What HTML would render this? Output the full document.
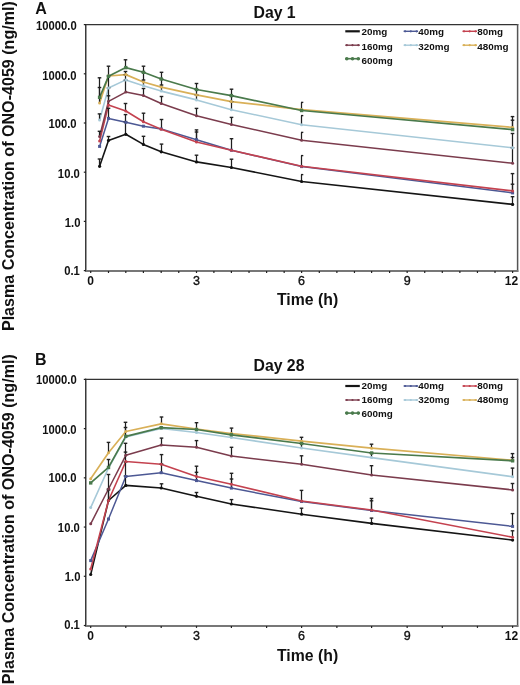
<!DOCTYPE html>
<html><head><meta charset="utf-8"><style>
html,body{margin:0;padding:0;background:#fff;}
svg{display:block;will-change:transform;}
text{font-family:"Liberation Sans",sans-serif;font-weight:bold;fill:#111;}
.yl{font-size:12px;}
.xl{font-size:12.5px;font-weight:normal;stroke:#111;stroke-width:0.35px;}
.xl0{font-size:12px;}
.xl2{font-size:12px;}
.lg{font-size:9.4px;}
.tt{font-size:16px;}
.dy{font-size:15.8px;}
.xt{font-size:15.8px;}
.yt{font-size:16.1px;}
</style></head><body>
<svg width="520" height="685" viewBox="0 0 520 685">
<rect width="520" height="685" fill="#fff"/>
<text x="35.3" y="13.6" class="tt">A</text>
<text x="35" y="364.6" class="tt">B</text>
<text x="253.5" y="17.8" class="dy">Day 1</text>
<text x="253.5" y="370.9" class="dy">Day 28</text>
<text transform="translate(14.2,166.1) rotate(-90)" text-anchor="middle" class="yt">Plasma Concentration of ONO-4059 (ng/ml)</text>
<text transform="translate(14.2,519.2) rotate(-90)" text-anchor="middle" class="yt">Plasma Concentration of ONO-4059 (ng/ml)</text>
<text x="277" y="305.4" class="xt">Time (h)</text>
<text x="277" y="660.5" class="xt">Time (h)</text>
<text transform="translate(76.7,29.9) scale(0.94,1)" text-anchor="end" class="yl">10000.0</text>
<text transform="translate(76.6,79.7) scale(0.94,1)" text-anchor="end" class="yl">1000.0</text>
<text transform="translate(76.6,127.9) scale(0.94,1)" text-anchor="end" class="yl">100.0</text>
<text transform="translate(79.8,177.8) scale(0.94,1)" text-anchor="end" class="yl">10.0</text>
<text transform="translate(80.4,226.5) scale(0.94,1)" text-anchor="end" class="yl">1.0</text>
<text transform="translate(79.8,274.9) scale(0.94,1)" text-anchor="end" class="yl">0.1</text>
<text transform="translate(76.7,384.4) scale(0.94,1)" text-anchor="end" class="yl">10000.0</text>
<text transform="translate(76.6,434.2) scale(0.94,1)" text-anchor="end" class="yl">1000.0</text>
<text transform="translate(76.6,482.4) scale(0.94,1)" text-anchor="end" class="yl">100.0</text>
<text transform="translate(79.8,532.3) scale(0.94,1)" text-anchor="end" class="yl">10.0</text>
<text transform="translate(80.4,581.0) scale(0.94,1)" text-anchor="end" class="yl">1.0</text>
<text transform="translate(79.8,629.4) scale(0.94,1)" text-anchor="end" class="yl">0.1</text>
<text x="90.70" y="284.9" text-anchor="middle" class="xl0">0</text>
<text x="196.50" y="284.9" text-anchor="middle" class="xl">3</text>
<text x="301.60" y="284.9" text-anchor="middle" class="xl">6</text>
<text x="407.16" y="284.9" text-anchor="middle" class="xl">9</text>
<text x="518.2" y="284.9" text-anchor="end" class="xl2">12</text>
<text x="90.70" y="639.8" text-anchor="middle" class="xl0">0</text>
<text x="196.50" y="639.8" text-anchor="middle" class="xl">3</text>
<text x="301.60" y="639.8" text-anchor="middle" class="xl">6</text>
<text x="407.16" y="639.8" text-anchor="middle" class="xl">9</text>
<text x="518.2" y="639.8" text-anchor="end" class="xl2">12</text>
<line x1="85" y1="24.6" x2="518.3" y2="24.6" stroke="#333" stroke-width="1.2"/>
<line x1="517.6" y1="24.0" x2="517.6" y2="272" stroke="#555" stroke-width="1.5"/>
<line x1="85.75" y1="24.0" x2="85.75" y2="272" stroke="#3a3a3a" stroke-width="1.5"/>
<line x1="85" y1="271" x2="518.3" y2="271" stroke="#777" stroke-width="2"/>
<line x1="83.8" y1="24.60" x2="86" y2="24.60" stroke="#222" stroke-width="1.2"/>
<line x1="83.8" y1="73.80" x2="86" y2="73.80" stroke="#222" stroke-width="1.2"/>
<line x1="83.8" y1="123.00" x2="86" y2="123.00" stroke="#222" stroke-width="1.2"/>
<line x1="83.8" y1="172.20" x2="86" y2="172.20" stroke="#222" stroke-width="1.2"/>
<line x1="83.8" y1="221.40" x2="86" y2="221.40" stroke="#222" stroke-width="1.2"/>
<line x1="83.8" y1="270.60" x2="86" y2="270.60" stroke="#222" stroke-width="1.2"/>
<line x1="90.70" y1="271" x2="90.70" y2="273" stroke="#222" stroke-width="1.2"/>
<line x1="108.50" y1="271" x2="108.50" y2="273" stroke="#222" stroke-width="1.2"/>
<line x1="125.80" y1="271" x2="125.80" y2="273" stroke="#222" stroke-width="1.2"/>
<line x1="143.40" y1="271" x2="143.40" y2="273" stroke="#222" stroke-width="1.2"/>
<line x1="161.20" y1="271" x2="161.20" y2="273" stroke="#222" stroke-width="1.2"/>
<line x1="178.75" y1="271" x2="178.75" y2="273" stroke="#222" stroke-width="1.2"/>
<line x1="196.50" y1="271" x2="196.50" y2="273" stroke="#222" stroke-width="1.2"/>
<line x1="213.89" y1="271" x2="213.89" y2="273" stroke="#222" stroke-width="1.2"/>
<line x1="231.40" y1="271" x2="231.40" y2="273" stroke="#222" stroke-width="1.2"/>
<line x1="249.03" y1="271" x2="249.03" y2="273" stroke="#222" stroke-width="1.2"/>
<line x1="266.60" y1="271" x2="266.60" y2="273" stroke="#222" stroke-width="1.2"/>
<line x1="284.17" y1="271" x2="284.17" y2="273" stroke="#222" stroke-width="1.2"/>
<line x1="301.60" y1="271" x2="301.60" y2="273" stroke="#222" stroke-width="1.2"/>
<line x1="319.31" y1="271" x2="319.31" y2="273" stroke="#222" stroke-width="1.2"/>
<line x1="336.88" y1="271" x2="336.88" y2="273" stroke="#222" stroke-width="1.2"/>
<line x1="354.45" y1="271" x2="354.45" y2="273" stroke="#222" stroke-width="1.2"/>
<line x1="371.60" y1="271" x2="371.60" y2="273" stroke="#222" stroke-width="1.2"/>
<line x1="389.59" y1="271" x2="389.59" y2="273" stroke="#222" stroke-width="1.2"/>
<line x1="407.16" y1="271" x2="407.16" y2="273" stroke="#222" stroke-width="1.2"/>
<line x1="424.73" y1="271" x2="424.73" y2="273" stroke="#222" stroke-width="1.2"/>
<line x1="442.30" y1="271" x2="442.30" y2="273" stroke="#222" stroke-width="1.2"/>
<line x1="459.87" y1="271" x2="459.87" y2="273" stroke="#222" stroke-width="1.2"/>
<line x1="477.44" y1="271" x2="477.44" y2="273" stroke="#222" stroke-width="1.2"/>
<line x1="495.01" y1="271" x2="495.01" y2="273" stroke="#222" stroke-width="1.2"/>
<line x1="512.60" y1="271" x2="512.60" y2="273" stroke="#222" stroke-width="1.2"/>
<polyline points="99.60,166.30 108.50,140.40 125.80,134.30 143.40,144.40 161.20,151.80 196.50,161.90 231.40,167.50 301.60,181.50 512.60,204.40" fill="none" stroke="#151515" stroke-width="1.6" stroke-linejoin="round"/>
<polyline points="99.60,146.40 108.50,118.40 125.80,122.30 143.40,126.20 161.20,128.90 196.50,139.70 231.40,150.20 301.60,166.60 512.60,192.90" fill="none" stroke="#4c5894" stroke-width="1.5" stroke-linejoin="round"/>
<polyline points="99.60,141.00 108.50,105.10 125.80,111.00 143.40,121.80 161.20,129.30 196.50,142.00 231.40,150.20 301.60,166.20 512.60,190.90" fill="none" stroke="#c4424f" stroke-width="1.6" stroke-linejoin="round"/>
<polyline points="99.60,136.50 108.50,101.30 125.80,92.10 143.40,95.50 161.20,103.50 196.50,115.80 231.40,124.50 301.60,140.30 512.60,163.20" fill="none" stroke="#7b3c4d" stroke-width="1.5" stroke-linejoin="round"/>
<polyline points="99.60,120.00 108.50,88.00 125.80,79.90 143.40,85.80 161.20,91.10 196.50,99.90 231.40,109.70 301.60,124.70 512.60,147.80" fill="none" stroke="#a6c9d8" stroke-width="1.6" stroke-linejoin="round"/>
<polyline points="99.60,102.90 108.50,76.00 125.80,74.60 143.40,82.00 161.20,87.10 196.50,94.90 231.40,101.60 301.60,109.60 512.60,127.40" fill="none" stroke="#d9b058" stroke-width="1.7" stroke-linejoin="round"/>
<polyline points="99.60,97.30 108.50,76.30 125.80,67.60 143.40,72.30 161.20,79.00 196.50,89.50 231.40,95.60 301.60,110.50 512.60,129.60" fill="none" stroke="#4a7a4c" stroke-width="1.7" stroke-linejoin="round"/>
<line x1="99.50" y1="166.30" x2="99.50" y2="159.00" stroke="#1e1e1e" stroke-width="1.25"/>
<line x1="97.70" y1="159.00" x2="101.30" y2="159.00" stroke="#222" stroke-width="1.4"/>
<line x1="108.50" y1="140.40" x2="108.50" y2="136.50" stroke="#1e1e1e" stroke-width="1.25"/>
<line x1="106.70" y1="136.50" x2="110.30" y2="136.50" stroke="#222" stroke-width="1.4"/>
<line x1="125.50" y1="134.30" x2="125.50" y2="122.00" stroke="#1e1e1e" stroke-width="1.25"/>
<line x1="123.70" y1="122.00" x2="127.30" y2="122.00" stroke="#222" stroke-width="1.4"/>
<line x1="143.50" y1="144.40" x2="143.50" y2="136.30" stroke="#1e1e1e" stroke-width="1.25"/>
<line x1="141.70" y1="136.30" x2="145.30" y2="136.30" stroke="#222" stroke-width="1.4"/>
<line x1="161.50" y1="151.80" x2="161.50" y2="144.10" stroke="#1e1e1e" stroke-width="1.25"/>
<line x1="159.70" y1="144.10" x2="163.30" y2="144.10" stroke="#222" stroke-width="1.4"/>
<line x1="196.50" y1="161.90" x2="196.50" y2="155.20" stroke="#1e1e1e" stroke-width="1.25"/>
<line x1="194.70" y1="155.20" x2="198.30" y2="155.20" stroke="#222" stroke-width="1.4"/>
<line x1="231.50" y1="167.50" x2="231.50" y2="159.20" stroke="#1e1e1e" stroke-width="1.25"/>
<line x1="229.70" y1="159.20" x2="233.30" y2="159.20" stroke="#222" stroke-width="1.4"/>
<line x1="301.50" y1="181.50" x2="301.50" y2="174.60" stroke="#1e1e1e" stroke-width="1.25"/>
<line x1="301.00" y1="174.60" x2="303.30" y2="174.60" stroke="#222" stroke-width="1.4"/>
<line x1="512.50" y1="204.40" x2="512.50" y2="196.70" stroke="#1e1e1e" stroke-width="1.25"/>
<line x1="510.70" y1="196.70" x2="514.30" y2="196.70" stroke="#222" stroke-width="1.4"/>
<line x1="108.50" y1="118.40" x2="108.50" y2="108.30" stroke="#1e1e1e" stroke-width="1.25"/>
<line x1="106.70" y1="108.30" x2="110.30" y2="108.30" stroke="#222" stroke-width="1.4"/>
<line x1="125.50" y1="122.30" x2="125.50" y2="114.60" stroke="#1e1e1e" stroke-width="1.25"/>
<line x1="123.70" y1="114.60" x2="127.30" y2="114.60" stroke="#222" stroke-width="1.4"/>
<line x1="196.50" y1="139.70" x2="196.50" y2="132.00" stroke="#1e1e1e" stroke-width="1.25"/>
<line x1="194.70" y1="132.00" x2="198.30" y2="132.00" stroke="#222" stroke-width="1.4"/>
<line x1="512.50" y1="192.90" x2="512.50" y2="184.20" stroke="#1e1e1e" stroke-width="1.25"/>
<line x1="510.70" y1="184.20" x2="514.30" y2="184.20" stroke="#222" stroke-width="1.4"/>
<line x1="108.50" y1="105.10" x2="108.50" y2="95.80" stroke="#1e1e1e" stroke-width="1.25"/>
<line x1="106.70" y1="95.80" x2="110.30" y2="95.80" stroke="#222" stroke-width="1.4"/>
<line x1="125.50" y1="111.00" x2="125.50" y2="103.50" stroke="#1e1e1e" stroke-width="1.25"/>
<line x1="123.70" y1="103.50" x2="127.30" y2="103.50" stroke="#222" stroke-width="1.4"/>
<line x1="143.50" y1="121.80" x2="143.50" y2="113.20" stroke="#1e1e1e" stroke-width="1.25"/>
<line x1="141.70" y1="113.20" x2="145.30" y2="113.20" stroke="#222" stroke-width="1.4"/>
<line x1="161.50" y1="129.30" x2="161.50" y2="119.50" stroke="#1e1e1e" stroke-width="1.25"/>
<line x1="159.70" y1="119.50" x2="163.30" y2="119.50" stroke="#222" stroke-width="1.4"/>
<line x1="196.50" y1="142.00" x2="196.50" y2="129.90" stroke="#1e1e1e" stroke-width="1.25"/>
<line x1="194.70" y1="129.90" x2="198.30" y2="129.90" stroke="#222" stroke-width="1.4"/>
<line x1="231.50" y1="150.20" x2="231.50" y2="138.70" stroke="#1e1e1e" stroke-width="1.25"/>
<line x1="229.70" y1="138.70" x2="233.30" y2="138.70" stroke="#222" stroke-width="1.4"/>
<line x1="301.50" y1="166.20" x2="301.50" y2="155.60" stroke="#1e1e1e" stroke-width="1.25"/>
<line x1="301.00" y1="155.60" x2="303.30" y2="155.60" stroke="#222" stroke-width="1.4"/>
<line x1="512.50" y1="190.90" x2="512.50" y2="173.60" stroke="#1e1e1e" stroke-width="1.25"/>
<line x1="510.70" y1="173.60" x2="514.30" y2="173.60" stroke="#222" stroke-width="1.4"/>
<line x1="99.50" y1="136.50" x2="99.50" y2="131.30" stroke="#1e1e1e" stroke-width="1.25"/>
<line x1="97.70" y1="131.30" x2="101.30" y2="131.30" stroke="#222" stroke-width="1.4"/>
<line x1="108.50" y1="101.30" x2="108.50" y2="88.00" stroke="#1e1e1e" stroke-width="1.25"/>
<line x1="106.70" y1="88.00" x2="110.30" y2="88.00" stroke="#222" stroke-width="1.4"/>
<line x1="125.50" y1="92.10" x2="125.50" y2="80.00" stroke="#1e1e1e" stroke-width="1.25"/>
<line x1="123.70" y1="80.00" x2="127.30" y2="80.00" stroke="#222" stroke-width="1.4"/>
<line x1="143.50" y1="95.50" x2="143.50" y2="88.50" stroke="#1e1e1e" stroke-width="1.25"/>
<line x1="141.70" y1="88.50" x2="145.30" y2="88.50" stroke="#222" stroke-width="1.4"/>
<line x1="161.50" y1="103.50" x2="161.50" y2="96.50" stroke="#1e1e1e" stroke-width="1.25"/>
<line x1="159.70" y1="96.50" x2="163.30" y2="96.50" stroke="#222" stroke-width="1.4"/>
<line x1="196.50" y1="115.80" x2="196.50" y2="108.40" stroke="#1e1e1e" stroke-width="1.25"/>
<line x1="194.70" y1="108.40" x2="198.30" y2="108.40" stroke="#222" stroke-width="1.4"/>
<line x1="231.50" y1="124.50" x2="231.50" y2="117.40" stroke="#1e1e1e" stroke-width="1.25"/>
<line x1="229.70" y1="117.40" x2="233.30" y2="117.40" stroke="#222" stroke-width="1.4"/>
<line x1="301.50" y1="140.30" x2="301.50" y2="132.40" stroke="#1e1e1e" stroke-width="1.25"/>
<line x1="301.00" y1="132.40" x2="303.30" y2="132.40" stroke="#222" stroke-width="1.4"/>
<line x1="512.50" y1="163.20" x2="512.50" y2="147.80" stroke="#1e1e1e" stroke-width="1.25"/>
<line x1="510.70" y1="147.80" x2="514.30" y2="147.80" stroke="#222" stroke-width="1.4"/>
<line x1="99.50" y1="120.00" x2="99.50" y2="113.90" stroke="#1e1e1e" stroke-width="1.25"/>
<line x1="97.70" y1="113.90" x2="101.30" y2="113.90" stroke="#222" stroke-width="1.4"/>
<line x1="108.50" y1="88.00" x2="108.50" y2="76.00" stroke="#1e1e1e" stroke-width="1.25"/>
<line x1="106.70" y1="76.00" x2="110.30" y2="76.00" stroke="#222" stroke-width="1.4"/>
<line x1="125.50" y1="79.90" x2="125.50" y2="74.60" stroke="#1e1e1e" stroke-width="1.25"/>
<line x1="123.70" y1="74.60" x2="127.30" y2="74.60" stroke="#222" stroke-width="1.4"/>
<line x1="143.50" y1="85.80" x2="143.50" y2="80.00" stroke="#1e1e1e" stroke-width="1.25"/>
<line x1="141.70" y1="80.00" x2="145.30" y2="80.00" stroke="#222" stroke-width="1.4"/>
<line x1="161.50" y1="91.10" x2="161.50" y2="85.00" stroke="#1e1e1e" stroke-width="1.25"/>
<line x1="159.70" y1="85.00" x2="163.30" y2="85.00" stroke="#222" stroke-width="1.4"/>
<line x1="196.50" y1="99.90" x2="196.50" y2="95.00" stroke="#1e1e1e" stroke-width="1.25"/>
<line x1="194.70" y1="95.00" x2="198.30" y2="95.00" stroke="#222" stroke-width="1.4"/>
<line x1="231.50" y1="109.70" x2="231.50" y2="101.60" stroke="#1e1e1e" stroke-width="1.25"/>
<line x1="229.70" y1="101.60" x2="233.30" y2="101.60" stroke="#222" stroke-width="1.4"/>
<line x1="301.50" y1="124.70" x2="301.50" y2="115.60" stroke="#1e1e1e" stroke-width="1.25"/>
<line x1="301.00" y1="115.60" x2="303.30" y2="115.60" stroke="#222" stroke-width="1.4"/>
<line x1="512.50" y1="147.80" x2="512.50" y2="133.50" stroke="#1e1e1e" stroke-width="1.25"/>
<line x1="510.70" y1="133.50" x2="514.30" y2="133.50" stroke="#222" stroke-width="1.4"/>
<line x1="99.50" y1="102.90" x2="99.50" y2="87.50" stroke="#1e1e1e" stroke-width="1.25"/>
<line x1="97.70" y1="87.50" x2="101.30" y2="87.50" stroke="#222" stroke-width="1.4"/>
<line x1="125.50" y1="74.60" x2="125.50" y2="71.50" stroke="#1e1e1e" stroke-width="1.25"/>
<line x1="123.70" y1="71.50" x2="127.30" y2="71.50" stroke="#222" stroke-width="1.4"/>
<line x1="143.50" y1="82.00" x2="143.50" y2="72.30" stroke="#1e1e1e" stroke-width="1.25"/>
<line x1="141.70" y1="72.30" x2="145.30" y2="72.30" stroke="#222" stroke-width="1.4"/>
<line x1="161.50" y1="87.10" x2="161.50" y2="79.00" stroke="#1e1e1e" stroke-width="1.25"/>
<line x1="159.70" y1="79.00" x2="163.30" y2="79.00" stroke="#222" stroke-width="1.4"/>
<line x1="196.50" y1="94.90" x2="196.50" y2="89.50" stroke="#1e1e1e" stroke-width="1.25"/>
<line x1="194.70" y1="89.50" x2="198.30" y2="89.50" stroke="#222" stroke-width="1.4"/>
<line x1="231.50" y1="101.60" x2="231.50" y2="95.60" stroke="#1e1e1e" stroke-width="1.25"/>
<line x1="229.70" y1="95.60" x2="233.30" y2="95.60" stroke="#222" stroke-width="1.4"/>
<line x1="512.50" y1="127.40" x2="512.50" y2="120.20" stroke="#1e1e1e" stroke-width="1.25"/>
<line x1="510.70" y1="120.20" x2="514.30" y2="120.20" stroke="#222" stroke-width="1.4"/>
<line x1="99.50" y1="97.30" x2="99.50" y2="77.80" stroke="#1e1e1e" stroke-width="1.25"/>
<line x1="97.70" y1="77.80" x2="101.30" y2="77.80" stroke="#222" stroke-width="1.4"/>
<line x1="108.50" y1="76.30" x2="108.50" y2="66.20" stroke="#1e1e1e" stroke-width="1.25"/>
<line x1="106.70" y1="66.20" x2="110.30" y2="66.20" stroke="#222" stroke-width="1.4"/>
<line x1="125.50" y1="67.60" x2="125.50" y2="59.80" stroke="#1e1e1e" stroke-width="1.25"/>
<line x1="123.70" y1="59.80" x2="127.30" y2="59.80" stroke="#222" stroke-width="1.4"/>
<line x1="143.50" y1="72.30" x2="143.50" y2="66.20" stroke="#1e1e1e" stroke-width="1.25"/>
<line x1="141.70" y1="66.20" x2="145.30" y2="66.20" stroke="#222" stroke-width="1.4"/>
<line x1="161.50" y1="79.00" x2="161.50" y2="72.30" stroke="#1e1e1e" stroke-width="1.25"/>
<line x1="159.70" y1="72.30" x2="163.30" y2="72.30" stroke="#222" stroke-width="1.4"/>
<line x1="196.50" y1="89.50" x2="196.50" y2="83.50" stroke="#1e1e1e" stroke-width="1.25"/>
<line x1="194.70" y1="83.50" x2="198.30" y2="83.50" stroke="#222" stroke-width="1.4"/>
<line x1="231.50" y1="95.60" x2="231.50" y2="89.20" stroke="#1e1e1e" stroke-width="1.25"/>
<line x1="229.70" y1="89.20" x2="233.30" y2="89.20" stroke="#222" stroke-width="1.4"/>
<line x1="301.50" y1="110.50" x2="301.50" y2="102.40" stroke="#1e1e1e" stroke-width="1.25"/>
<line x1="301.00" y1="102.40" x2="303.30" y2="102.40" stroke="#222" stroke-width="1.4"/>
<line x1="512.50" y1="129.60" x2="512.50" y2="116.60" stroke="#1e1e1e" stroke-width="1.25"/>
<line x1="510.70" y1="116.60" x2="514.30" y2="116.60" stroke="#222" stroke-width="1.4"/>
<circle cx="99.60" cy="166.30" r="1.6" fill="#111"/>
<circle cx="108.50" cy="140.40" r="1.6" fill="#111"/>
<circle cx="125.80" cy="134.30" r="1.6" fill="#111"/>
<circle cx="143.40" cy="144.40" r="1.6" fill="#111"/>
<circle cx="161.20" cy="151.80" r="1.6" fill="#111"/>
<circle cx="196.50" cy="161.90" r="1.6" fill="#111"/>
<circle cx="231.40" cy="167.50" r="1.6" fill="#111"/>
<circle cx="301.60" cy="181.50" r="1.6" fill="#111"/>
<circle cx="512.60" cy="204.40" r="1.6" fill="#111"/>
<rect x="98.10" y="144.90" width="3" height="3" fill="#4c5894"/>
<rect x="107.00" y="116.90" width="3" height="3" fill="#4c5894"/>
<rect x="124.30" y="120.80" width="3" height="3" fill="#4c5894"/>
<rect x="141.90" y="124.70" width="3" height="3" fill="#4c5894"/>
<rect x="159.70" y="127.40" width="3" height="3" fill="#4c5894"/>
<rect x="195.00" y="138.20" width="3" height="3" fill="#4c5894"/>
<rect x="229.90" y="148.70" width="3" height="3" fill="#4c5894"/>
<rect x="300.10" y="165.10" width="3" height="3" fill="#4c5894"/>
<rect x="511.10" y="191.40" width="3" height="3" fill="#4c5894"/>
<circle cx="99.60" cy="141.00" r="1.5" fill="#c4424f"/>
<circle cx="108.50" cy="105.10" r="1.5" fill="#c4424f"/>
<circle cx="125.80" cy="111.00" r="1.5" fill="#c4424f"/>
<circle cx="143.40" cy="121.80" r="1.5" fill="#c4424f"/>
<circle cx="161.20" cy="129.30" r="1.5" fill="#c4424f"/>
<circle cx="196.50" cy="142.00" r="1.5" fill="#c4424f"/>
<circle cx="231.40" cy="150.20" r="1.5" fill="#c4424f"/>
<circle cx="301.60" cy="166.20" r="1.5" fill="#c4424f"/>
<circle cx="512.60" cy="190.90" r="1.5" fill="#c4424f"/>
<circle cx="99.60" cy="136.50" r="1.5" fill="#7b3c4d"/>
<circle cx="108.50" cy="101.30" r="1.5" fill="#7b3c4d"/>
<circle cx="125.80" cy="92.10" r="1.5" fill="#7b3c4d"/>
<circle cx="143.40" cy="95.50" r="1.5" fill="#7b3c4d"/>
<circle cx="161.20" cy="103.50" r="1.5" fill="#7b3c4d"/>
<circle cx="196.50" cy="115.80" r="1.5" fill="#7b3c4d"/>
<circle cx="231.40" cy="124.50" r="1.5" fill="#7b3c4d"/>
<circle cx="301.60" cy="140.30" r="1.5" fill="#7b3c4d"/>
<circle cx="512.60" cy="163.20" r="1.5" fill="#7b3c4d"/>
<circle cx="99.60" cy="120.00" r="1.5" fill="#a6c9d8"/>
<circle cx="108.50" cy="88.00" r="1.5" fill="#a6c9d8"/>
<circle cx="125.80" cy="79.90" r="1.5" fill="#a6c9d8"/>
<circle cx="143.40" cy="85.80" r="1.5" fill="#a6c9d8"/>
<circle cx="161.20" cy="91.10" r="1.5" fill="#a6c9d8"/>
<circle cx="196.50" cy="99.90" r="1.5" fill="#a6c9d8"/>
<circle cx="231.40" cy="109.70" r="1.5" fill="#a6c9d8"/>
<circle cx="301.60" cy="124.70" r="1.5" fill="#a6c9d8"/>
<circle cx="512.60" cy="147.80" r="1.5" fill="#a6c9d8"/>
<circle cx="99.60" cy="102.90" r="1.5" fill="#d9b058"/>
<circle cx="108.50" cy="76.00" r="1.5" fill="#d9b058"/>
<circle cx="125.80" cy="74.60" r="1.5" fill="#d9b058"/>
<circle cx="143.40" cy="82.00" r="1.5" fill="#d9b058"/>
<circle cx="161.20" cy="87.10" r="1.5" fill="#d9b058"/>
<circle cx="196.50" cy="94.90" r="1.5" fill="#d9b058"/>
<circle cx="231.40" cy="101.60" r="1.5" fill="#d9b058"/>
<circle cx="301.60" cy="109.60" r="1.5" fill="#d9b058"/>
<circle cx="512.60" cy="127.40" r="1.5" fill="#d9b058"/>
<rect x="97.90" y="95.60" width="3.4" height="3.4" fill="#4a7a4c"/>
<rect x="106.80" y="74.60" width="3.4" height="3.4" fill="#4a7a4c"/>
<rect x="124.10" y="65.90" width="3.4" height="3.4" fill="#4a7a4c"/>
<rect x="141.70" y="70.60" width="3.4" height="3.4" fill="#4a7a4c"/>
<rect x="159.50" y="77.30" width="3.4" height="3.4" fill="#4a7a4c"/>
<rect x="194.80" y="87.80" width="3.4" height="3.4" fill="#4a7a4c"/>
<rect x="229.70" y="93.90" width="3.4" height="3.4" fill="#4a7a4c"/>
<rect x="299.90" y="108.80" width="3.4" height="3.4" fill="#4a7a4c"/>
<rect x="510.90" y="127.90" width="3.4" height="3.4" fill="#4a7a4c"/>
<line x1="85" y1="379.4" x2="518.3" y2="379.4" stroke="#333" stroke-width="1.2"/>
<line x1="517.6" y1="378.79999999999995" x2="517.6" y2="626.9" stroke="#555" stroke-width="1.5"/>
<line x1="85.75" y1="378.79999999999995" x2="85.75" y2="626.9" stroke="#3a3a3a" stroke-width="1.5"/>
<line x1="85" y1="625.9" x2="518.3" y2="625.9" stroke="#777" stroke-width="2"/>
<line x1="83.8" y1="379.40" x2="86" y2="379.40" stroke="#222" stroke-width="1.2"/>
<line x1="83.8" y1="428.62" x2="86" y2="428.62" stroke="#222" stroke-width="1.2"/>
<line x1="83.8" y1="477.84" x2="86" y2="477.84" stroke="#222" stroke-width="1.2"/>
<line x1="83.8" y1="527.06" x2="86" y2="527.06" stroke="#222" stroke-width="1.2"/>
<line x1="83.8" y1="576.28" x2="86" y2="576.28" stroke="#222" stroke-width="1.2"/>
<line x1="83.8" y1="625.50" x2="86" y2="625.50" stroke="#222" stroke-width="1.2"/>
<line x1="90.70" y1="625.9" x2="90.70" y2="627.9" stroke="#222" stroke-width="1.2"/>
<line x1="125.80" y1="625.9" x2="125.80" y2="627.9" stroke="#222" stroke-width="1.2"/>
<line x1="161.20" y1="625.9" x2="161.20" y2="627.9" stroke="#222" stroke-width="1.2"/>
<line x1="196.50" y1="625.9" x2="196.50" y2="627.9" stroke="#222" stroke-width="1.2"/>
<line x1="231.40" y1="625.9" x2="231.40" y2="627.9" stroke="#222" stroke-width="1.2"/>
<line x1="266.60" y1="625.9" x2="266.60" y2="627.9" stroke="#222" stroke-width="1.2"/>
<line x1="301.60" y1="625.9" x2="301.60" y2="627.9" stroke="#222" stroke-width="1.2"/>
<line x1="336.88" y1="625.9" x2="336.88" y2="627.9" stroke="#222" stroke-width="1.2"/>
<line x1="371.60" y1="625.9" x2="371.60" y2="627.9" stroke="#222" stroke-width="1.2"/>
<line x1="407.16" y1="625.9" x2="407.16" y2="627.9" stroke="#222" stroke-width="1.2"/>
<line x1="442.30" y1="625.9" x2="442.30" y2="627.9" stroke="#222" stroke-width="1.2"/>
<line x1="477.44" y1="625.9" x2="477.44" y2="627.9" stroke="#222" stroke-width="1.2"/>
<line x1="512.60" y1="625.9" x2="512.60" y2="627.9" stroke="#222" stroke-width="1.2"/>
<polyline points="90.70,574.50 108.50,500.50 125.80,485.40 161.20,488.00 196.50,496.30 231.40,504.00 301.60,514.20 371.60,523.40 512.60,540.10" fill="none" stroke="#151515" stroke-width="1.6" stroke-linejoin="round"/>
<polyline points="90.70,560.60 108.50,519.00 125.80,476.50 161.20,472.70 196.50,480.60 231.40,488.10 301.60,501.50 371.60,510.50 512.60,526.40" fill="none" stroke="#4c5894" stroke-width="1.5" stroke-linejoin="round"/>
<polyline points="90.70,569.00 108.50,500.50 125.80,461.50 161.20,464.20 196.50,476.50 231.40,484.20 301.60,501.00 371.60,510.00 512.60,537.20" fill="none" stroke="#c4424f" stroke-width="1.6" stroke-linejoin="round"/>
<polyline points="90.70,523.80 108.50,489.00 125.80,455.30 161.20,445.00 196.50,447.30 231.40,456.00 301.60,464.30 371.60,474.90 512.60,489.90" fill="none" stroke="#7b3c4d" stroke-width="1.5" stroke-linejoin="round"/>
<polyline points="90.70,507.60 108.50,468.00 125.80,437.00 161.20,428.50 196.50,432.50 231.40,437.50 301.60,448.00 371.60,457.60 512.60,476.70" fill="none" stroke="#a6c9d8" stroke-width="1.6" stroke-linejoin="round"/>
<polyline points="90.70,478.80 108.50,452.70 125.80,431.50 161.20,423.80 196.50,429.00 231.40,433.50 301.60,441.20 371.60,448.20 512.60,460.20" fill="none" stroke="#d9b058" stroke-width="1.7" stroke-linejoin="round"/>
<polyline points="90.70,482.90 108.50,467.40 125.80,436.30 161.20,427.70 196.50,429.50 231.40,434.80 301.60,443.50 371.60,453.00 512.60,460.80" fill="none" stroke="#4a7a4c" stroke-width="1.7" stroke-linejoin="round"/>
<line x1="108.50" y1="500.50" x2="108.50" y2="490.00" stroke="#1e1e1e" stroke-width="1.25"/>
<line x1="106.70" y1="490.00" x2="110.30" y2="490.00" stroke="#222" stroke-width="1.4"/>
<line x1="125.50" y1="485.40" x2="125.50" y2="476.00" stroke="#1e1e1e" stroke-width="1.25"/>
<line x1="123.70" y1="476.00" x2="127.30" y2="476.00" stroke="#222" stroke-width="1.4"/>
<line x1="161.50" y1="488.00" x2="161.50" y2="483.80" stroke="#1e1e1e" stroke-width="1.25"/>
<line x1="159.70" y1="483.80" x2="163.30" y2="483.80" stroke="#222" stroke-width="1.4"/>
<line x1="196.50" y1="496.30" x2="196.50" y2="492.50" stroke="#1e1e1e" stroke-width="1.25"/>
<line x1="194.70" y1="492.50" x2="198.30" y2="492.50" stroke="#222" stroke-width="1.4"/>
<line x1="231.50" y1="504.00" x2="231.50" y2="499.60" stroke="#1e1e1e" stroke-width="1.25"/>
<line x1="229.70" y1="499.60" x2="233.30" y2="499.60" stroke="#222" stroke-width="1.4"/>
<line x1="301.50" y1="514.20" x2="301.50" y2="508.20" stroke="#1e1e1e" stroke-width="1.25"/>
<line x1="299.70" y1="508.20" x2="303.30" y2="508.20" stroke="#222" stroke-width="1.4"/>
<line x1="371.50" y1="523.40" x2="371.50" y2="518.10" stroke="#1e1e1e" stroke-width="1.25"/>
<line x1="369.70" y1="518.10" x2="373.30" y2="518.10" stroke="#222" stroke-width="1.4"/>
<line x1="125.50" y1="476.50" x2="125.50" y2="462.00" stroke="#1e1e1e" stroke-width="1.25"/>
<line x1="123.70" y1="462.00" x2="127.30" y2="462.00" stroke="#222" stroke-width="1.4"/>
<line x1="161.50" y1="472.70" x2="161.50" y2="464.00" stroke="#1e1e1e" stroke-width="1.25"/>
<line x1="159.70" y1="464.00" x2="163.30" y2="464.00" stroke="#222" stroke-width="1.4"/>
<line x1="196.50" y1="480.60" x2="196.50" y2="472.30" stroke="#1e1e1e" stroke-width="1.25"/>
<line x1="194.70" y1="472.30" x2="198.30" y2="472.30" stroke="#222" stroke-width="1.4"/>
<line x1="231.50" y1="488.10" x2="231.50" y2="479.00" stroke="#1e1e1e" stroke-width="1.25"/>
<line x1="229.70" y1="479.00" x2="233.30" y2="479.00" stroke="#222" stroke-width="1.4"/>
<line x1="371.50" y1="510.50" x2="371.50" y2="500.80" stroke="#1e1e1e" stroke-width="1.25"/>
<line x1="369.70" y1="500.80" x2="373.30" y2="500.80" stroke="#222" stroke-width="1.4"/>
<line x1="512.50" y1="526.40" x2="512.50" y2="513.60" stroke="#1e1e1e" stroke-width="1.25"/>
<line x1="510.70" y1="513.60" x2="514.30" y2="513.60" stroke="#222" stroke-width="1.4"/>
<line x1="108.50" y1="500.50" x2="108.50" y2="489.00" stroke="#1e1e1e" stroke-width="1.25"/>
<line x1="106.70" y1="489.00" x2="110.30" y2="489.00" stroke="#222" stroke-width="1.4"/>
<line x1="125.50" y1="461.50" x2="125.50" y2="452.10" stroke="#1e1e1e" stroke-width="1.25"/>
<line x1="123.70" y1="452.10" x2="127.30" y2="452.10" stroke="#222" stroke-width="1.4"/>
<line x1="161.50" y1="464.20" x2="161.50" y2="454.60" stroke="#1e1e1e" stroke-width="1.25"/>
<line x1="159.70" y1="454.60" x2="163.30" y2="454.60" stroke="#222" stroke-width="1.4"/>
<line x1="196.50" y1="476.50" x2="196.50" y2="466.20" stroke="#1e1e1e" stroke-width="1.25"/>
<line x1="194.70" y1="466.20" x2="198.30" y2="466.20" stroke="#222" stroke-width="1.4"/>
<line x1="231.50" y1="484.20" x2="231.50" y2="473.30" stroke="#1e1e1e" stroke-width="1.25"/>
<line x1="229.70" y1="473.30" x2="233.30" y2="473.30" stroke="#222" stroke-width="1.4"/>
<line x1="301.50" y1="501.00" x2="301.50" y2="490.40" stroke="#1e1e1e" stroke-width="1.25"/>
<line x1="299.70" y1="490.40" x2="303.30" y2="490.40" stroke="#222" stroke-width="1.4"/>
<line x1="371.50" y1="510.00" x2="371.50" y2="498.50" stroke="#1e1e1e" stroke-width="1.25"/>
<line x1="369.70" y1="498.50" x2="373.30" y2="498.50" stroke="#222" stroke-width="1.4"/>
<line x1="512.50" y1="537.20" x2="512.50" y2="530.80" stroke="#1e1e1e" stroke-width="1.25"/>
<line x1="510.70" y1="530.80" x2="514.30" y2="530.80" stroke="#222" stroke-width="1.4"/>
<line x1="108.50" y1="489.00" x2="108.50" y2="474.50" stroke="#1e1e1e" stroke-width="1.25"/>
<line x1="106.70" y1="474.50" x2="110.30" y2="474.50" stroke="#222" stroke-width="1.4"/>
<line x1="125.50" y1="455.30" x2="125.50" y2="443.30" stroke="#1e1e1e" stroke-width="1.25"/>
<line x1="123.70" y1="443.30" x2="127.30" y2="443.30" stroke="#222" stroke-width="1.4"/>
<line x1="161.50" y1="445.00" x2="161.50" y2="438.10" stroke="#1e1e1e" stroke-width="1.25"/>
<line x1="159.70" y1="438.10" x2="163.30" y2="438.10" stroke="#222" stroke-width="1.4"/>
<line x1="196.50" y1="447.30" x2="196.50" y2="440.60" stroke="#1e1e1e" stroke-width="1.25"/>
<line x1="194.70" y1="440.60" x2="198.30" y2="440.60" stroke="#222" stroke-width="1.4"/>
<line x1="231.50" y1="456.00" x2="231.50" y2="447.30" stroke="#1e1e1e" stroke-width="1.25"/>
<line x1="229.70" y1="447.30" x2="233.30" y2="447.30" stroke="#222" stroke-width="1.4"/>
<line x1="301.50" y1="464.30" x2="301.50" y2="455.80" stroke="#1e1e1e" stroke-width="1.25"/>
<line x1="299.70" y1="455.80" x2="303.30" y2="455.80" stroke="#222" stroke-width="1.4"/>
<line x1="371.50" y1="474.90" x2="371.50" y2="465.70" stroke="#1e1e1e" stroke-width="1.25"/>
<line x1="369.70" y1="465.70" x2="373.30" y2="465.70" stroke="#222" stroke-width="1.4"/>
<line x1="512.50" y1="489.90" x2="512.50" y2="483.50" stroke="#1e1e1e" stroke-width="1.25"/>
<line x1="510.70" y1="483.50" x2="514.30" y2="483.50" stroke="#222" stroke-width="1.4"/>
<line x1="301.50" y1="448.00" x2="301.50" y2="443.50" stroke="#1e1e1e" stroke-width="1.25"/>
<line x1="299.70" y1="443.50" x2="303.30" y2="443.50" stroke="#222" stroke-width="1.4"/>
<line x1="371.50" y1="457.60" x2="371.50" y2="453.00" stroke="#1e1e1e" stroke-width="1.25"/>
<line x1="369.70" y1="453.00" x2="373.30" y2="453.00" stroke="#222" stroke-width="1.4"/>
<line x1="512.50" y1="476.70" x2="512.50" y2="468.10" stroke="#1e1e1e" stroke-width="1.25"/>
<line x1="510.70" y1="468.10" x2="514.30" y2="468.10" stroke="#222" stroke-width="1.4"/>
<line x1="108.50" y1="452.70" x2="108.50" y2="442.40" stroke="#1e1e1e" stroke-width="1.25"/>
<line x1="106.70" y1="442.40" x2="110.30" y2="442.40" stroke="#222" stroke-width="1.4"/>
<line x1="125.50" y1="431.50" x2="125.50" y2="422.30" stroke="#1e1e1e" stroke-width="1.25"/>
<line x1="123.70" y1="422.30" x2="127.30" y2="422.30" stroke="#222" stroke-width="1.4"/>
<line x1="161.50" y1="423.80" x2="161.50" y2="417.00" stroke="#1e1e1e" stroke-width="1.25"/>
<line x1="159.70" y1="417.00" x2="163.30" y2="417.00" stroke="#222" stroke-width="1.4"/>
<line x1="196.50" y1="429.00" x2="196.50" y2="422.70" stroke="#1e1e1e" stroke-width="1.25"/>
<line x1="194.70" y1="422.70" x2="198.30" y2="422.70" stroke="#222" stroke-width="1.4"/>
<line x1="231.50" y1="433.50" x2="231.50" y2="428.10" stroke="#1e1e1e" stroke-width="1.25"/>
<line x1="229.70" y1="428.10" x2="233.30" y2="428.10" stroke="#222" stroke-width="1.4"/>
<line x1="301.50" y1="441.20" x2="301.50" y2="437.30" stroke="#1e1e1e" stroke-width="1.25"/>
<line x1="299.70" y1="437.30" x2="303.30" y2="437.30" stroke="#222" stroke-width="1.4"/>
<line x1="371.50" y1="448.20" x2="371.50" y2="444.20" stroke="#1e1e1e" stroke-width="1.25"/>
<line x1="369.70" y1="444.20" x2="373.30" y2="444.20" stroke="#222" stroke-width="1.4"/>
<line x1="512.50" y1="460.20" x2="512.50" y2="453.60" stroke="#1e1e1e" stroke-width="1.25"/>
<line x1="510.70" y1="453.60" x2="514.30" y2="453.60" stroke="#222" stroke-width="1.4"/>
<line x1="108.50" y1="467.40" x2="108.50" y2="459.50" stroke="#1e1e1e" stroke-width="1.25"/>
<line x1="106.70" y1="459.50" x2="110.30" y2="459.50" stroke="#222" stroke-width="1.4"/>
<line x1="125.50" y1="436.30" x2="125.50" y2="427.50" stroke="#1e1e1e" stroke-width="1.25"/>
<line x1="123.70" y1="427.50" x2="127.30" y2="427.50" stroke="#222" stroke-width="1.4"/>
<line x1="512.50" y1="460.80" x2="512.50" y2="457.50" stroke="#1e1e1e" stroke-width="1.25"/>
<line x1="510.70" y1="457.50" x2="514.30" y2="457.50" stroke="#222" stroke-width="1.4"/>
<circle cx="90.70" cy="574.50" r="1.6" fill="#111"/>
<circle cx="108.50" cy="500.50" r="1.6" fill="#111"/>
<circle cx="125.80" cy="485.40" r="1.6" fill="#111"/>
<circle cx="161.20" cy="488.00" r="1.6" fill="#111"/>
<circle cx="196.50" cy="496.30" r="1.6" fill="#111"/>
<circle cx="231.40" cy="504.00" r="1.6" fill="#111"/>
<circle cx="301.60" cy="514.20" r="1.6" fill="#111"/>
<circle cx="371.60" cy="523.40" r="1.6" fill="#111"/>
<circle cx="512.60" cy="540.10" r="1.6" fill="#111"/>
<rect x="89.20" y="559.10" width="3" height="3" fill="#4c5894"/>
<rect x="107.00" y="517.50" width="3" height="3" fill="#4c5894"/>
<rect x="124.30" y="475.00" width="3" height="3" fill="#4c5894"/>
<rect x="159.70" y="471.20" width="3" height="3" fill="#4c5894"/>
<rect x="195.00" y="479.10" width="3" height="3" fill="#4c5894"/>
<rect x="229.90" y="486.60" width="3" height="3" fill="#4c5894"/>
<rect x="300.10" y="500.00" width="3" height="3" fill="#4c5894"/>
<rect x="370.10" y="509.00" width="3" height="3" fill="#4c5894"/>
<rect x="511.10" y="524.90" width="3" height="3" fill="#4c5894"/>
<circle cx="90.70" cy="569.00" r="1.5" fill="#c4424f"/>
<circle cx="108.50" cy="500.50" r="1.5" fill="#c4424f"/>
<circle cx="125.80" cy="461.50" r="1.5" fill="#c4424f"/>
<circle cx="161.20" cy="464.20" r="1.5" fill="#c4424f"/>
<circle cx="196.50" cy="476.50" r="1.5" fill="#c4424f"/>
<circle cx="231.40" cy="484.20" r="1.5" fill="#c4424f"/>
<circle cx="301.60" cy="501.00" r="1.5" fill="#c4424f"/>
<circle cx="371.60" cy="510.00" r="1.5" fill="#c4424f"/>
<circle cx="512.60" cy="537.20" r="1.5" fill="#c4424f"/>
<circle cx="90.70" cy="523.80" r="1.5" fill="#7b3c4d"/>
<circle cx="108.50" cy="489.00" r="1.5" fill="#7b3c4d"/>
<circle cx="125.80" cy="455.30" r="1.5" fill="#7b3c4d"/>
<circle cx="161.20" cy="445.00" r="1.5" fill="#7b3c4d"/>
<circle cx="196.50" cy="447.30" r="1.5" fill="#7b3c4d"/>
<circle cx="231.40" cy="456.00" r="1.5" fill="#7b3c4d"/>
<circle cx="301.60" cy="464.30" r="1.5" fill="#7b3c4d"/>
<circle cx="371.60" cy="474.90" r="1.5" fill="#7b3c4d"/>
<circle cx="512.60" cy="489.90" r="1.5" fill="#7b3c4d"/>
<circle cx="90.70" cy="507.60" r="1.5" fill="#a6c9d8"/>
<circle cx="108.50" cy="468.00" r="1.5" fill="#a6c9d8"/>
<circle cx="125.80" cy="437.00" r="1.5" fill="#a6c9d8"/>
<circle cx="161.20" cy="428.50" r="1.5" fill="#a6c9d8"/>
<circle cx="196.50" cy="432.50" r="1.5" fill="#a6c9d8"/>
<circle cx="231.40" cy="437.50" r="1.5" fill="#a6c9d8"/>
<circle cx="301.60" cy="448.00" r="1.5" fill="#a6c9d8"/>
<circle cx="371.60" cy="457.60" r="1.5" fill="#a6c9d8"/>
<circle cx="512.60" cy="476.70" r="1.5" fill="#a6c9d8"/>
<circle cx="90.70" cy="478.80" r="1.5" fill="#d9b058"/>
<circle cx="108.50" cy="452.70" r="1.5" fill="#d9b058"/>
<circle cx="125.80" cy="431.50" r="1.5" fill="#d9b058"/>
<circle cx="161.20" cy="423.80" r="1.5" fill="#d9b058"/>
<circle cx="196.50" cy="429.00" r="1.5" fill="#d9b058"/>
<circle cx="231.40" cy="433.50" r="1.5" fill="#d9b058"/>
<circle cx="301.60" cy="441.20" r="1.5" fill="#d9b058"/>
<circle cx="371.60" cy="448.20" r="1.5" fill="#d9b058"/>
<circle cx="512.60" cy="460.20" r="1.5" fill="#d9b058"/>
<rect x="89.00" y="481.20" width="3.4" height="3.4" fill="#4a7a4c"/>
<rect x="106.80" y="465.70" width="3.4" height="3.4" fill="#4a7a4c"/>
<rect x="124.10" y="434.60" width="3.4" height="3.4" fill="#4a7a4c"/>
<rect x="159.50" y="426.00" width="3.4" height="3.4" fill="#4a7a4c"/>
<rect x="194.80" y="427.80" width="3.4" height="3.4" fill="#4a7a4c"/>
<rect x="229.70" y="433.10" width="3.4" height="3.4" fill="#4a7a4c"/>
<rect x="299.90" y="441.80" width="3.4" height="3.4" fill="#4a7a4c"/>
<rect x="369.90" y="451.30" width="3.4" height="3.4" fill="#4a7a4c"/>
<rect x="510.90" y="459.10" width="3.4" height="3.4" fill="#4a7a4c"/>
<line x1="345.3" y1="31.30" x2="359.8" y2="31.30" stroke="#151515" stroke-width="2.2"/>
<text transform="translate(361.6,35.40) scale(1.05,1)" class="lg">20mg</text>
<line x1="403.6" y1="31.30" x2="418.1" y2="31.30" stroke="#4c5894" stroke-width="1.4"/>
<circle cx="405.1" cy="31.30" r="1.1" fill="#4c5894"/>
<circle cx="410.8" cy="31.30" r="1.1" fill="#4c5894"/>
<circle cx="416.6" cy="31.30" r="1.1" fill="#4c5894"/>
<text transform="translate(418.3,35.40) scale(1.05,1)" class="lg">40mg</text>
<line x1="462.5" y1="31.30" x2="477.0" y2="31.30" stroke="#c4424f" stroke-width="1.4"/>
<circle cx="464.0" cy="31.30" r="1.1" fill="#c4424f"/>
<circle cx="469.7" cy="31.30" r="1.1" fill="#c4424f"/>
<circle cx="475.5" cy="31.30" r="1.1" fill="#c4424f"/>
<text transform="translate(477.2,35.40) scale(1.05,1)" class="lg">80mg</text>
<line x1="345.3" y1="45.20" x2="359.8" y2="45.20" stroke="#7b3c4d" stroke-width="1.4"/>
<circle cx="346.8" cy="45.20" r="1.1" fill="#7b3c4d"/>
<circle cx="352.5" cy="45.20" r="1.1" fill="#7b3c4d"/>
<circle cx="358.3" cy="45.20" r="1.1" fill="#7b3c4d"/>
<text transform="translate(361.6,50.00) scale(1.05,1)" class="lg">160mg</text>
<line x1="403.6" y1="45.20" x2="418.1" y2="45.20" stroke="#a6c9d8" stroke-width="1.4"/>
<circle cx="405.1" cy="45.20" r="1.1" fill="#a6c9d8"/>
<circle cx="410.8" cy="45.20" r="1.1" fill="#a6c9d8"/>
<circle cx="416.6" cy="45.20" r="1.1" fill="#a6c9d8"/>
<text transform="translate(418.3,50.00) scale(1.05,1)" class="lg">320mg</text>
<line x1="462.5" y1="45.20" x2="477.0" y2="45.20" stroke="#d9b058" stroke-width="1.4"/>
<circle cx="464.0" cy="45.20" r="1.1" fill="#d9b058"/>
<circle cx="469.7" cy="45.20" r="1.1" fill="#d9b058"/>
<circle cx="475.5" cy="45.20" r="1.1" fill="#d9b058"/>
<text transform="translate(477.2,50.00) scale(1.05,1)" class="lg">480mg</text>
<line x1="345.3" y1="58.70" x2="359.8" y2="58.70" stroke="#4a7a4c" stroke-width="1.6"/>
<circle cx="346.8" cy="58.70" r="1.8" fill="#4a7a4c"/>
<circle cx="352.5" cy="58.70" r="1.8" fill="#4a7a4c"/>
<circle cx="358.3" cy="58.70" r="1.8" fill="#4a7a4c"/>
<text transform="translate(361.6,63.50) scale(1.05,1)" class="lg">600mg</text>
<line x1="345.3" y1="386.00" x2="359.8" y2="386.00" stroke="#151515" stroke-width="2.2"/>
<text transform="translate(361.6,389.00) scale(1.05,1)" class="lg">20mg</text>
<line x1="403.6" y1="386.00" x2="418.1" y2="386.00" stroke="#4c5894" stroke-width="1.4"/>
<circle cx="405.1" cy="386.00" r="1.1" fill="#4c5894"/>
<circle cx="410.8" cy="386.00" r="1.1" fill="#4c5894"/>
<circle cx="416.6" cy="386.00" r="1.1" fill="#4c5894"/>
<text transform="translate(418.3,389.00) scale(1.05,1)" class="lg">40mg</text>
<line x1="462.5" y1="386.00" x2="477.0" y2="386.00" stroke="#c4424f" stroke-width="1.4"/>
<circle cx="464.0" cy="386.00" r="1.1" fill="#c4424f"/>
<circle cx="469.7" cy="386.00" r="1.1" fill="#c4424f"/>
<circle cx="475.5" cy="386.00" r="1.1" fill="#c4424f"/>
<text transform="translate(477.2,389.00) scale(1.05,1)" class="lg">80mg</text>
<line x1="345.3" y1="400.00" x2="359.8" y2="400.00" stroke="#7b3c4d" stroke-width="1.4"/>
<circle cx="346.8" cy="400.00" r="1.1" fill="#7b3c4d"/>
<circle cx="352.5" cy="400.00" r="1.1" fill="#7b3c4d"/>
<circle cx="358.3" cy="400.00" r="1.1" fill="#7b3c4d"/>
<text transform="translate(361.6,402.80) scale(1.05,1)" class="lg">160mg</text>
<line x1="403.6" y1="400.00" x2="418.1" y2="400.00" stroke="#a6c9d8" stroke-width="1.4"/>
<circle cx="405.1" cy="400.00" r="1.1" fill="#a6c9d8"/>
<circle cx="410.8" cy="400.00" r="1.1" fill="#a6c9d8"/>
<circle cx="416.6" cy="400.00" r="1.1" fill="#a6c9d8"/>
<text transform="translate(418.3,402.80) scale(1.05,1)" class="lg">320mg</text>
<line x1="462.5" y1="400.00" x2="477.0" y2="400.00" stroke="#d9b058" stroke-width="1.4"/>
<circle cx="464.0" cy="400.00" r="1.1" fill="#d9b058"/>
<circle cx="469.7" cy="400.00" r="1.1" fill="#d9b058"/>
<circle cx="475.5" cy="400.00" r="1.1" fill="#d9b058"/>
<text transform="translate(477.2,402.80) scale(1.05,1)" class="lg">480mg</text>
<line x1="345.3" y1="413.10" x2="359.8" y2="413.10" stroke="#4a7a4c" stroke-width="1.6"/>
<circle cx="346.8" cy="413.10" r="1.8" fill="#4a7a4c"/>
<circle cx="352.5" cy="413.10" r="1.8" fill="#4a7a4c"/>
<circle cx="358.3" cy="413.10" r="1.8" fill="#4a7a4c"/>
<text transform="translate(361.6,417.00) scale(1.05,1)" class="lg">600mg</text>
</svg>
</body></html>
